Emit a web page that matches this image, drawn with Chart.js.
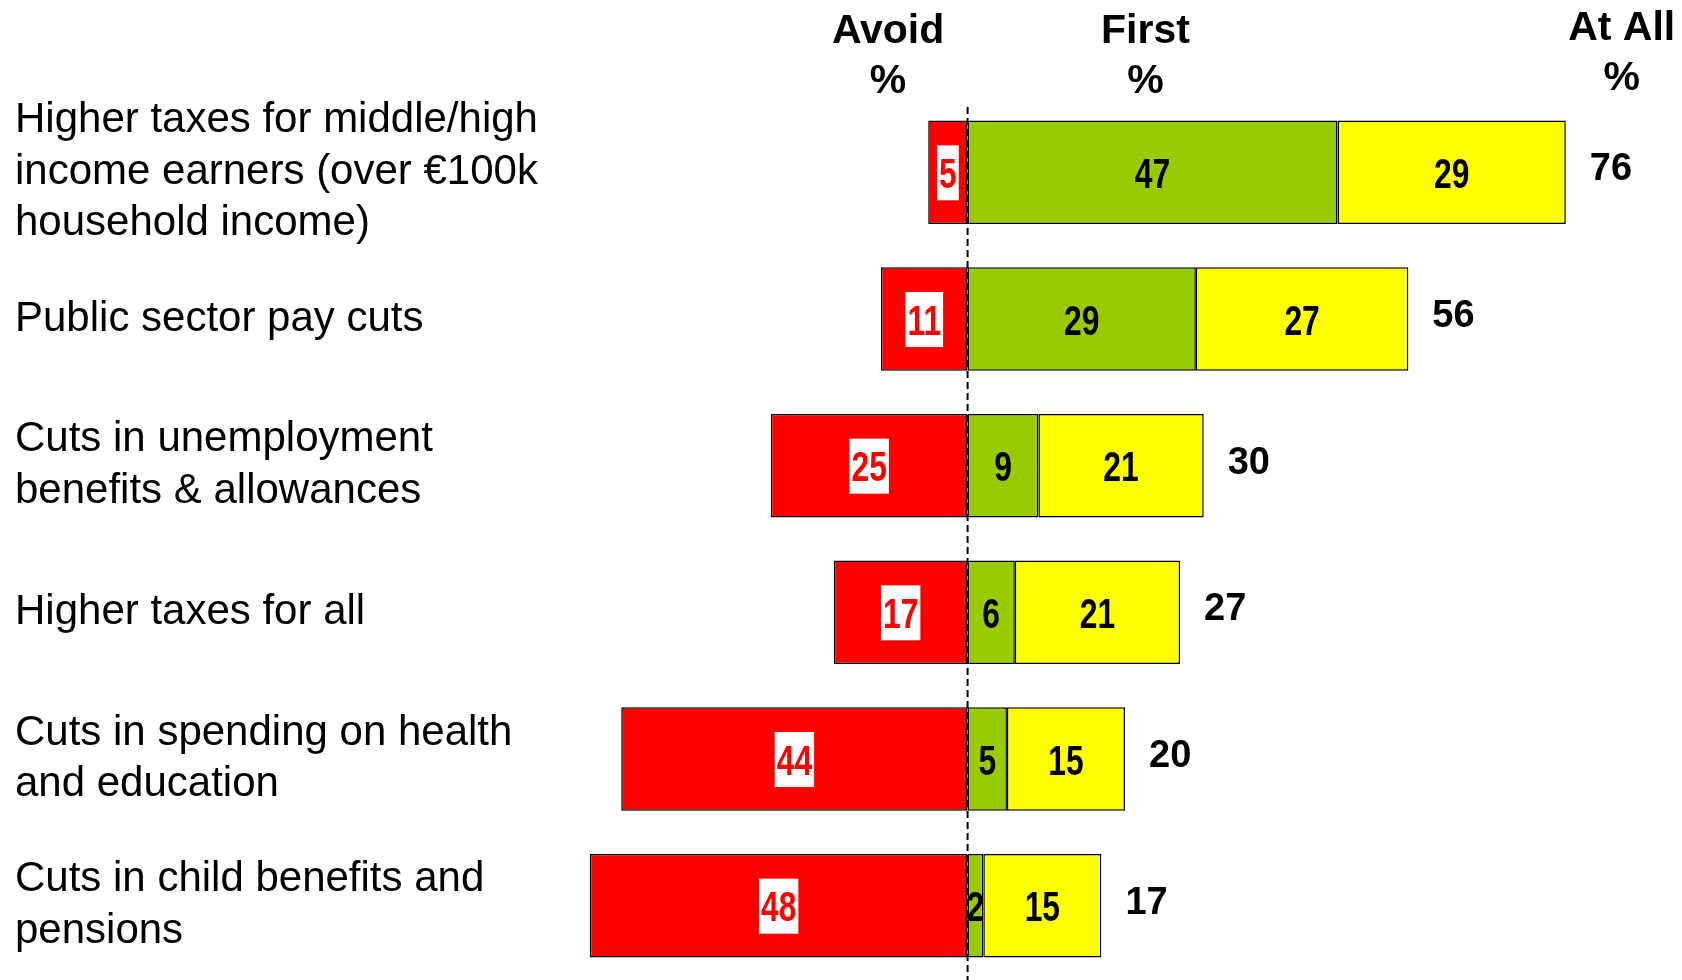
<!DOCTYPE html>
<html>
<head>
<meta charset="utf-8">
<script src="https://cdn.jsdelivr.net/npm/chart.js@4/dist/chart.umd.min.js"></script>
<style>
html,body{margin:0;padding:0;background:#ffffff;}
#wrap{width:1682px;height:980px;position:relative;}
</style>
</head>
<body>
<div id="wrap"><canvas id="c" width="1682" height="980"></canvas></div>
<script>
const categories = [
  ["Higher taxes for middle/high", "income earners (over €100k", "household income)"],
  ["Public sector pay cuts"],
  ["Cuts in unemployment", "benefits & allowances"],
  ["Higher taxes for all"],
  ["Cuts in spending on health", "and education"],
  ["Cuts in child benefits and", "pensions"]
];
const avoidPct = [5, 11, 25, 17, 44, 48];
const firstPct = [47, 29, 9, 6, 5, 2];
const laterPct = [29, 27, 21, 21, 15, 15];
const atAllPct = [76, 56, 30, 27, 20, 17];
const columnHeaders = [["Avoid", "%"], ["First", "%"], ["At All", "%"]];
const headerAnchors = [-10.1, 22.6, 83.1];

const SANS = '"Liberation Sans", Arial, Helvetica, sans-serif';
const NUM_SCALE_X = 0.74;

const overlay = {
  id: 'overlay',
  afterDatasetsDraw(chart) {
    const ctx = chart.ctx, xs = chart.scales.x, area = chart.chartArea;
    // dashed zero line
    const x0 = xs.getPixelForValue(0);
    ctx.save();
    ctx.strokeStyle = '#000';
    ctx.lineWidth = 2;
    ctx.setLineDash([7, 4]);
    ctx.beginPath();
    ctx.moveTo(x0, area.top + 8);
    ctx.lineTo(x0, chart.height);
    ctx.stroke();
    ctx.restore();

    // segment labels (condensed bold numbers)
    chart.data.datasets.forEach((ds, di) => {
      const meta = chart.getDatasetMeta(di);
      meta.data.forEach((bar, i) => {
        const txt = String(Math.abs(ds.data[i]));
        const cx = (bar.x + bar.base) / 2, cy = bar.y;
        ctx.save();
        ctx.font = 'bold 43px ' + SANS;
        const w = ctx.measureText(txt).width * NUM_SCALE_X;
        if (di === 0) {
          ctx.fillStyle = '#ffffff';
          ctx.fillRect(cx - w / 2 - 2, cy - 27, w + 4, 55);
        }
        ctx.fillStyle = di === 0 ? '#ff0000' : '#000000';
        ctx.translate(cx, cy + 15.5);
        ctx.scale(NUM_SCALE_X, 1);
        ctx.textAlign = 'center';
        ctx.textBaseline = 'alphabetic';
        ctx.fillText(txt, 0, 0);
        ctx.restore();
      });
    });

    // totals
    ctx.save();
    ctx.font = 'bold 38px ' + SANS;
    ctx.textAlign = 'left';
    ctx.fillStyle = '#000';
    const lastMeta = chart.getDatasetMeta(chart.data.datasets.length - 1);
    lastMeta.data.forEach((bar, i) => {
      ctx.fillText(String(atAllPct[i]), bar.x + 24, bar.y + 8);
    });
    ctx.restore();

    // column headers
    ctx.save();
    ctx.font = 'bold 41px ' + SANS;
    ctx.textAlign = 'center';
    ctx.fillStyle = '#000';
    columnHeaders.forEach((lines, k) => {
      const hx = xs.getPixelForValue(headerAnchors[k]);
      const shift = k === 2 ? -3 : 0;
      ctx.fillText(lines[0], hx, area.top - 56 + shift);
      ctx.fillText(lines[1], hx, area.top - 6 + shift);
    });
    ctx.restore();
  }
};

new Chart(document.getElementById('c'), {
  type: 'bar',
  data: {
    labels: categories,
    datasets: [
      { label: 'Avoid', data: avoidPct.map(v => -v), backgroundColor: '#ff0000' },
      { label: 'First', data: firstPct, backgroundColor: '#99cc00' },
      { label: 'Later', data: laterPct, backgroundColor: '#ffff00' }
    ]
  },
  options: {
    indexAxis: 'y',
    responsive: false,
    animation: false,
    events: [],
    layout: { padding: { left: 15, right: 6, top: 99, bottom: 1 } },
    datasets: {
      bar: {
        borderColor: '#000000',
        borderWidth: 1.5,
        borderSkipped: false,
        barPercentage: 1,
        categoryPercentage: 0.706
      }
    },
    plugins: { legend: { display: false }, tooltip: { enabled: false }, title: { display: false } },
    scales: {
      x: {
        stacked: true,
        min: -50,
        max: 90,
        display: false
      },
      y: {
        stacked: true,
        grid: { display: false },
        border: { display: false },
        afterFit(scale) {
          scale.width = 559;
          scale.paddingTop = 0;
          scale.paddingBottom = 0;
        },
        ticks: {
          autoSkip: false,
          crossAlign: 'far',
          padding: 0,
          color: '#000000',
          font: { family: SANS, size: 42, lineHeight: 1.226 }
        }
      }
    }
  },
  plugins: [overlay]
});
</script>
</body>
</html>
